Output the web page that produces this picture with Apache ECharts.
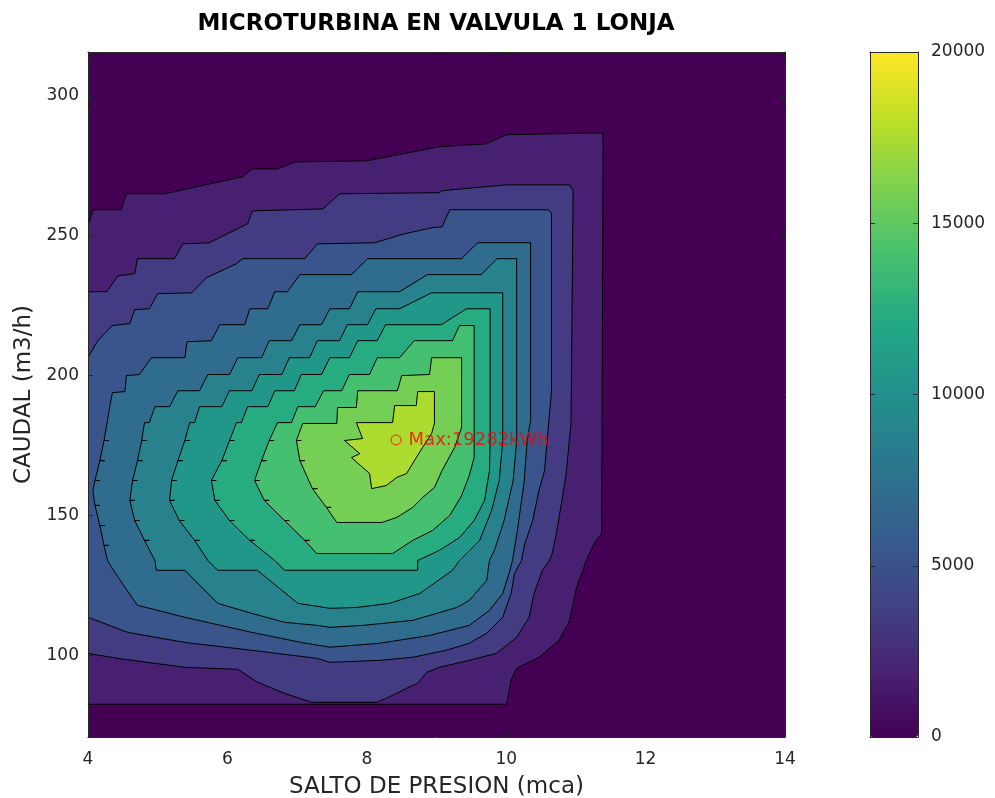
<!DOCTYPE html>
<html>
<head>
<meta charset="utf-8">
<script src="https://cdn.jsdelivr.net/npm/echarts@6/dist/echarts.min.js"></script>
<style>
html,body{margin:0;padding:0;background:#ffffff;}
#chart{width:995px;height:798px;}
</style>
</head>
<body>
<div id="chart"></div>
<script>
// ---------------- DATA ----------------
// contour levels (kWh), auto levels of MATLAB contourf
const levels = [1753, 3506, 5259, 7012, 8765, 10518, 12270, 14023, 15776, 17529];

// contour boundaries, [SALTO DE PRESION (mca), CAUDAL (m3/h)]
const contour1 = [[4.00,82.5],[10.00,82.5],[10.01,83.2],[10.07,91.1],[10.15,95.4],[10.47,99.3],[10.76,105.4],[10.91,112.5],[11.01,124.3],[11.15,133.9],[11.19,136.4],[11.29,141.1],[11.37,143.6],[11.39,284.6],[11.38,286.8],[10.00,286.1],[9.72,282.9],[9.04,281.8],[8.00,276.8],[6.99,276.4],[6.71,273.9],[6.36,273.9],[6.22,271.1],[5.10,265.0],[4.55,265.0],[4.48,259.3],[4.07,259.3],[4.00,253.6]];

const contour2 = [[4.00,100.7],[4.43,98.9],[5.39,95.7],[6.15,95.0],[6.43,90.4],[6.82,86.4],[7.21,83.2],[8.14,83.2],[8.28,84.6],[8.57,88.2],[8.73,90.0],[8.86,93.9],[9.04,95.7],[9.47,98.2],[9.86,100.7],[10.15,106.4],[10.33,113.6],[10.40,122.1],[10.52,130.4],[10.62,133.9],[10.66,136.4],[10.72,143.6],[10.80,155.4],[10.86,165.0],[10.93,182.9],[10.96,266.1],[10.91,268.2],[10.00,268.2],[9.08,266.1],[9.04,265.4],[7.61,265.0],[7.37,259.6],[6.36,258.9],[6.29,254.3],[5.74,247.5],[5.36,247.1],[5.24,241.8],[4.71,241.8],[4.67,236.4],[4.43,235.7],[4.27,230.0],[4.00,230.0]];

const contour3 = [[4.00,113.6],[4.57,108.2],[5.39,104.6],[6.35,101.8],[7.29,98.9],[7.47,97.5],[8.18,98.2],[8.66,99.3],[9.14,101.8],[9.47,104.3],[9.72,107.9],[9.95,113.6],[10.07,122.1],[10.12,129.3],[10.22,133.9],[10.26,139.3],[10.38,148.2],[10.47,158.9],[10.55,166.1],[10.60,180.4],[10.65,194.6],[10.65,258.2],[10.60,259.3],[9.19,259.3],[9.08,253.2],[8.94,252.9],[8.54,250.7],[8.11,247.5],[7.29,247.1],[7.11,241.8],[6.22,241.8],[6.13,240.0],[5.70,235.0],[5.49,229.6],[5.00,229.3],[4.88,223.9],[4.67,223.6],[4.60,218.6],[4.35,217.9],[4.14,212.5],[4.00,206.4]];

const contour4 = [[4.28,133.9],[4.23,139.3],[4.30,139.3],[4.23,139.3],[4.17,146.4],[4.24,146.4],[4.17,146.4],[4.10,153.6],[4.17,153.6],[4.10,153.6],[4.07,158.9],[4.10,162.5],[4.17,162.5],[4.10,162.5],[4.17,169.6],[4.24,169.6],[4.17,169.6],[4.23,176.8],[4.30,176.8],[4.23,176.8],[4.28,183.9],[4.31,188.6],[4.35,193.9],[4.53,194.3],[4.55,200.0],[4.74,200.4],[4.91,206.4],[5.39,206.4],[5.42,212.1],[5.77,212.5],[5.89,218.2],[6.25,218.2],[6.32,223.9],[6.58,223.9],[6.68,230.0],[6.86,230.0],[7.04,236.1],[7.78,236.1],[8.01,241.8],[9.36,241.8],[9.59,247.5],[10.35,247.5],[10.35,183.9],[10.30,176.8],[10.26,162.5],[10.16,144.6],[10.09,133.9],[10.04,129.3],[9.95,122.1],[9.76,116.1],[9.47,110.7],[8.90,107.1],[8.18,104.3],[7.47,102.9],[7.06,104.6],[6.35,108.2],[5.39,113.6],[4.71,117.9],[4.53,124.3],[4.34,131.4]];

const contour5 = [[4.96,133.9],[4.81,141.1],[4.88,141.1],[4.81,141.1],[4.67,148.2],[4.74,148.2],[4.67,148.2],[4.60,155.4],[4.67,155.4],[4.60,155.4],[4.64,162.5],[4.71,162.5],[4.64,162.5],[4.71,169.6],[4.78,169.6],[4.71,169.6],[4.77,176.8],[4.84,176.8],[4.77,176.8],[4.81,183.2],[4.88,183.2],[4.96,188.9],[5.17,188.9],[5.29,194.6],[5.60,194.6],[5.72,200.4],[6.03,200.4],[6.15,206.4],[6.49,206.4],[6.60,212.5],[6.92,212.5],[7.04,218.2],[7.35,218.2],[7.47,223.9],[7.75,223.9],[7.87,230.0],[8.47,230.0],[8.87,236.1],[9.64,236.1],[9.87,241.8],[10.15,241.8],[10.15,176.8],[10.10,162.5],[9.97,148.2],[9.83,137.5],[9.76,133.9],[9.72,126.8],[9.47,119.6],[9.29,117.1],[8.66,112.5],[7.94,110.7],[7.47,110.0],[7.29,110.7],[6.82,111.8],[6.35,115.0],[5.86,118.6],[5.39,130.4],[4.98,130.4]];

const contour6 = [[5.72,133.9],[5.53,141.1],[5.60,141.1],[5.53,141.1],[5.31,148.2],[5.38,148.2],[5.31,148.2],[5.17,155.4],[5.24,155.4],[5.17,155.4],[5.20,162.5],[5.27,162.5],[5.20,162.5],[5.29,169.6],[5.36,169.6],[5.29,169.6],[5.39,176.8],[5.46,176.8],[5.39,176.8],[5.46,183.2],[5.53,183.2],[5.60,188.9],[5.92,188.9],[6.03,194.6],[6.35,194.6],[6.46,200.4],[6.78,200.4],[6.89,206.4],[7.18,206.4],[7.29,212.5],[7.61,212.5],[7.72,218.2],[8.01,218.2],[8.13,223.9],[8.47,223.9],[8.93,229.6],[9.95,229.6],[9.95,176.8],[9.90,162.5],[9.79,151.8],[9.62,141.1],[9.33,133.9],[9.23,130.4],[8.76,122.1],[8.33,118.6],[7.85,117.1],[7.47,116.8],[7.01,118.6],[6.43,130.4],[5.86,130.4]];

const contour7 = [[6.68,133.9],[6.32,141.1],[6.39,141.1],[6.32,141.1],[6.03,148.2],[6.10,148.2],[6.03,148.2],[5.82,155.4],[5.89,155.4],[5.82,155.4],[5.77,162.5],[5.84,162.5],[5.77,162.5],[5.92,169.6],[5.99,169.6],[5.92,169.6],[6.03,176.8],[6.10,176.8],[6.03,176.8],[6.13,183.2],[6.20,183.2],[6.29,188.9],[6.58,188.9],[6.68,194.6],[6.96,194.6],[7.06,200.4],[7.35,200.4],[7.47,206.4],[7.75,206.4],[7.87,212.5],[8.15,212.5],[8.27,218.2],[9.07,218.2],[9.43,223.9],[9.77,223.9],[9.77,176.8],[9.76,166.1],[9.69,155.4],[9.54,148.2],[9.33,142.1],[9.04,137.5],[8.73,133.9],[8.73,130.4],[6.82,130.4]];

const contour8 = [[7.28,136.4],[7.11,141.1],[7.18,141.1],[7.11,141.1],[6.82,148.2],[6.89,148.2],[6.82,148.2],[6.53,155.4],[6.60,155.4],[6.53,155.4],[6.39,162.5],[6.46,162.5],[6.39,162.5],[6.49,169.6],[6.56,169.6],[6.49,169.6],[6.60,176.8],[6.67,176.8],[6.60,176.8],[6.72,183.2],[6.92,183.2],[7.01,188.9],[7.26,188.9],[7.38,194.6],[7.64,194.6],[7.75,200.4],[8.04,200.4],[8.15,206.4],[8.47,206.4],[8.68,212.5],[9.23,212.5],[9.33,217.9],[9.54,217.9],[9.54,170.7],[9.47,164.3],[9.36,157.1],[9.19,150.0],[8.94,144.6],[8.66,141.1],[8.37,136.4]];

const contour9 = [[7.57,147.5],[7.42,152.9],[7.49,152.9],[7.42,152.9],[7.22,159.6],[7.29,159.6],[7.22,159.6],[7.04,169.6],[7.11,169.6],[7.04,169.6],[6.99,176.8],[7.06,176.8],[6.99,176.8],[7.08,182.9],[7.57,182.9],[7.58,188.6],[7.85,188.6],[7.87,194.6],[8.44,194.6],[8.50,200.0],[8.90,200.4],[8.93,206.4],[9.36,206.4],[9.36,181.4],[9.26,174.3],[9.08,166.1],[8.97,160.0],[8.80,156.4],[8.66,152.9],[8.43,149.3],[8.22,147.5]];

const contour10 = [[8.97,194.3],[8.73,194.3],[8.71,189.3],[8.40,189.3],[8.37,183.2],[7.85,183.2],[7.94,177.5],[7.68,176.8],[7.90,172.1],[7.78,170.7],[8.04,165.0],[8.07,159.6],[8.28,160.7],[8.43,163.6],[8.57,165.0],[8.71,170.7],[8.80,174.3],[8.93,179.3],[8.97,182.9]];

// maximum: [mca, m3/h, kWh]
const maxPoint = [8.42, 177.0, 19282];

const xTicks = [4, 6, 8, 10, 12, 14];
const yTicks = [100, 150, 200, 250, 300];
const cbarTicks = [0, 5000, 10000, 15000, 20000];

// ---------------- STYLE ----------------
const VIRIDIS = ['#440154','#482475','#414487','#355f8d','#2a788e','#21918c','#22a884','#44bf70','#7ad151','#bddf26','#fde725'];
const CMIN = 0, CMAX = 20000;
function hexRgb(h){ return [parseInt(h.substr(1,2),16), parseInt(h.substr(3,2),16), parseInt(h.substr(5,2),16)]; }
function viridis(t){
  t = Math.max(0, Math.min(1, t));
  const s = t * (VIRIDIS.length - 1);
  const i = Math.min(Math.floor(s), VIRIDIS.length - 2);
  const f = s - i;
  const a = hexRgb(VIRIDIS[i]), b = hexRgb(VIRIDIS[i+1]);
  const c = a.map((v,k) => Math.round(v + (b[k]-v)*f));
  return 'rgb(' + c.join(',') + ')';
}

const contours = [contour1, contour2, contour3, contour4, contour5, contour6, contour7, contour8, contour9, contour10];
const AX = '#262626';
const FONT = 'DejaVu Sans';

function renderItem(params, api){
  const i = params.dataIndex;
  const pts = contours[i].map(p => api.coord(p));
  return {
    type: 'polygon',
    shape: { points: pts },
    style: { fill: viridis((levels[i] - CMIN) / (CMAX - CMIN)), stroke: '#000000', lineWidth: 1, lineJoin: 'bevel' }
  };
}

const chart = echarts.init(document.getElementById('chart'), null, { renderer: 'canvas' });

const tickLabel = { fontFamily: FONT, fontSize: 17, color: AX };

const option = {
  animation: false,
  backgroundColor: '#ffffff',
  title: {
    text: 'MICROTURBINA EN VALVULA 1 LONJA',
    left: 431, top: 8, textAlign: 'center',
    textStyle: { fontFamily: FONT, fontWeight: 'bold', fontSize: 23, color: '#000000' }
  },
  grid: [
    { left: 88, top: 52, width: 697, height: 685, show: true, backgroundColor: VIRIDIS[0], borderWidth: 0,
      containLabel: false, outerBoundsMode: 'none' },
    { left: 870, top: 52, width: 48, height: 685, show: false, containLabel: false, outerBoundsMode: 'none' }
  ],
  visualMap: {
    type: 'continuous', min: CMIN, max: CMAX, seriesIndex: [],
    left: 870, top: 52, itemWidth: 48, itemHeight: 685, padding: 0,
    calculable: false, hoverLink: false, showLabel: false,
    inRange: { color: VIRIDIS }
  },
  xAxis: [
    { gridIndex: 0, type: 'value', min: 4, max: 14, interval: 2, position: 'bottom', z: 5,
      axisLine: { show: true, onZero: false, lineStyle: { color: AX, width: 1 } },
      axisTick: { show: true, inside: true, length: 5, customValues: xTicks, lineStyle: { color: AX } },
      axisLabel: Object.assign({ margin: 14, customValues: xTicks }, tickLabel),
      splitLine: { show: false },
      name: 'SALTO DE PRESION (mca)', nameLocation: 'middle', nameGap: 39,
      nameTextStyle: { fontFamily: FONT, fontSize: 23, color: AX } },
    { gridIndex: 0, type: 'value', min: 4, max: 14, interval: 2, position: 'top', z: 5,
      axisLine: { show: true, onZero: false, lineStyle: { color: AX, width: 1 } },
      axisTick: { show: true, inside: true, length: 5, lineStyle: { color: AX } },
      axisLabel: { show: false }, splitLine: { show: false } },
    { gridIndex: 1, type: 'value', min: 0, max: 1, position: 'bottom', z: 10,
      axisLine: { show: true, onZero: false, lineStyle: { color: AX, width: 1 } },
      axisTick: { show: false }, axisLabel: { show: false }, splitLine: { show: false } },
    { gridIndex: 1, type: 'value', min: 0, max: 1, position: 'top', z: 10,
      axisLine: { show: true, onZero: false, lineStyle: { color: AX, width: 1 } },
      axisTick: { show: false }, axisLabel: { show: false }, splitLine: { show: false } }
  ],
  yAxis: [
    { gridIndex: 0, type: 'value', min: 70.8, max: 315.7, position: 'left', z: 5,
      axisLine: { show: true, onZero: false, lineStyle: { color: AX, width: 1 } },
      axisTick: { show: true, inside: true, length: 5, customValues: yTicks, lineStyle: { color: AX } },
      axisLabel: Object.assign({ margin: 9, customValues: yTicks }, tickLabel),
      splitLine: { show: false },
      name: 'CAUDAL (m3/h)', nameLocation: 'middle', nameGap: 51,
      nameTextStyle: { fontFamily: FONT, fontSize: 23, color: AX } },
    { gridIndex: 0, type: 'value', min: 70.8, max: 315.7, position: 'right', z: 5,
      axisLine: { show: true, onZero: false, lineStyle: { color: AX, width: 1 } },
      axisTick: { show: true, inside: true, length: 5, customValues: yTicks, lineStyle: { color: AX } },
      axisLabel: { show: false }, splitLine: { show: false } },
    { gridIndex: 1, type: 'value', min: 0, max: 20000, interval: 5000, position: 'right', z: 10,
      axisLine: { show: true, onZero: false, lineStyle: { color: AX, width: 1 } },
      axisTick: { show: true, inside: true, length: 5, customValues: cbarTicks, lineStyle: { color: AX } },
      axisLabel: Object.assign({ margin: 13, customValues: cbarTicks, formatter: v => String(v) }, tickLabel),
      splitLine: { show: false } },
    { gridIndex: 1, type: 'value', min: 0, max: 20000, interval: 5000, position: 'left', z: 10,
      axisLine: { show: true, onZero: false, lineStyle: { color: AX, width: 1 } },
      axisTick: { show: true, inside: true, length: 5, customValues: cbarTicks, lineStyle: { color: AX } },
      axisLabel: { show: false }, splitLine: { show: false } }
  ],
  series: [
    { type: 'custom', xAxisIndex: 0, yAxisIndex: 0, clip: true, silent: true, z: 2,
      renderItem: renderItem,
      data: levels.map((v, i) => [i, v]) },
    { type: 'scatter', xAxisIndex: 0, yAxisIndex: 0, z: 6, silent: true,
      data: [maxPoint], symbol: 'circle', symbolSize: 10,
      itemStyle: { color: 'rgba(0,0,0,0)', borderColor: '#ff0000', borderWidth: 1 },
      label: { show: true, position: 'right', distance: 7,
        formatter: p => 'Max:' + p.value[2] + 'kWh',
        color: '#ff0000', fontFamily: FONT, fontSize: 18 } }
  ]
};
chart.setOption(option);
</script>
</body>
</html>
